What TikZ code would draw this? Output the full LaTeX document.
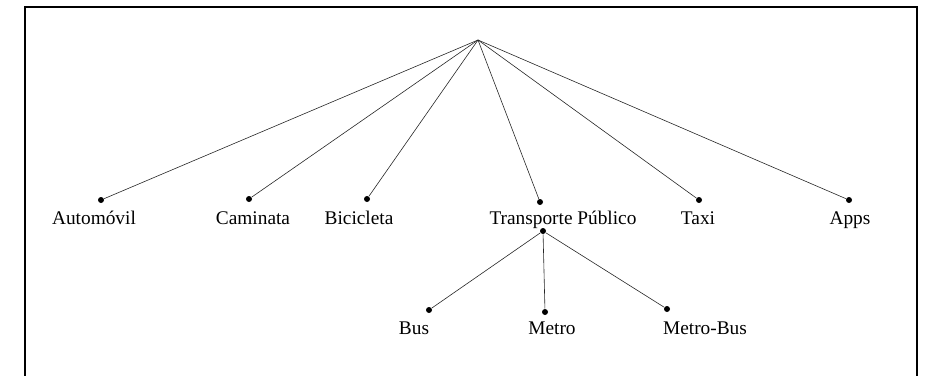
\documentclass[tikz,border=0pt]{standalone}
\usepackage{fontspec}
\setmainfont{Liberation Serif}
\usetikzlibrary{%
    positioning
}

\tikzset{
    dot/.style={circle, fill=black, inner sep=0pt, minimum size=4.5pt},
    lbl/.style={anchor=base, inner sep=0pt, font=\fontsize{14.5}{17}\selectfont},
    branch/.style={draw, line width=.45pt, black!85},
}

\begin{document}
\begin{tikzpicture}[x=0.75pt, y=-0.75pt]
    \useasboundingbox (0,0) rectangle (930,375);
    \draw[line width=1.6pt] (25,380) -- (25,7) -- (917,7) -- (917,380);

    \coordinate (root) at (478,40);

    % first level
    \foreach \Name/\X/\Y/\Lx/\Text in {%
        automovil/101/200/94/Automóvil,
        caminata/249/199/253/Caminata,
        bicicleta/367/199/359/Bicicleta,
        publico/540/202/563/Transporte Público,
        taxi/699/200/698/Taxi,
        apps/849/200/850/Apps%
        }
    {
        \node[dot] (\Name) at (\X,\Y) {};
        \node[lbl] (\Name-text) at (\Lx,224) {\Text};
        \draw[branch] (root) -- (\Name);
    }

    \node[dot] (publico-sub) at (543,231) {};

    % second level
    \foreach \Name/\X/\Y/\Lx/\Text in {%
        bus/429/310/414/Bus,
        metro/545/312/552/Metro,
        metrobus/667/309/705/Metro-Bus%
        }
    {
        \node[dot] (\Name) at (\X,\Y) {};
        \node[lbl] (\Name-text) at (\Lx,334) {\Text};
        \draw[branch] (publico-sub) -- (\Name);
    }
\end{tikzpicture}
\end{document}
